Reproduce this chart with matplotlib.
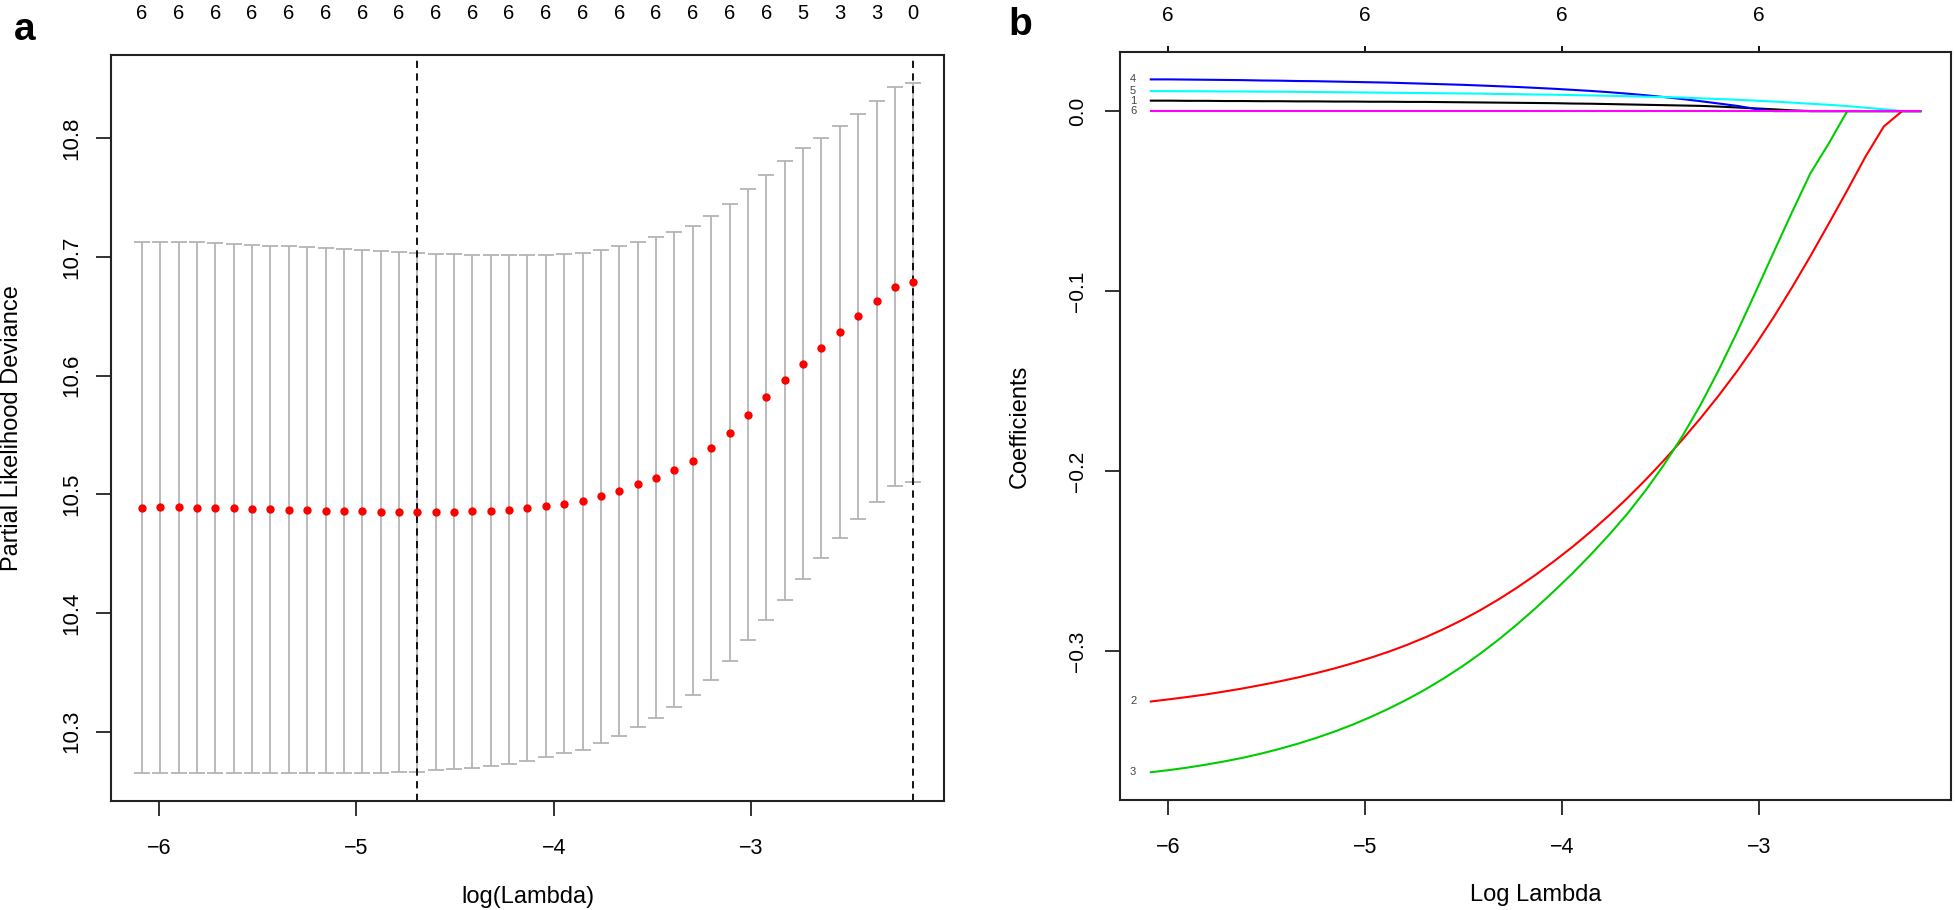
import numpy as np
import matplotlib
matplotlib.use("Agg")
import matplotlib.pyplot as plt

plt.rcParams['font.family'] = ['Liberation Sans', 'DejaVu Sans']

# ---- shared lambda sequence (log scale) ----
log_lambda = [-6.087, -5.994, -5.901, -5.808, -5.715, -5.622, -5.529, -5.436, -5.342,
              -5.249, -5.156, -5.063, -4.970, -4.877, -4.784, -4.691, -4.598, -4.505,
              -4.412, -4.319, -4.226, -4.133, -4.040, -3.946, -3.853, -3.760, -3.667,
              -3.574, -3.481, -3.388, -3.295, -3.202, -3.109, -3.016, -2.923, -2.830,
              -2.737, -2.644, -2.550, -2.457, -2.364, -2.271, -2.178]

# ---- panel a: cross-validated partial likelihood deviance ----
cv_mean = [10.4888, 10.4891, 10.4891, 10.4888, 10.4885, 10.4882, 10.4877, 10.4874, 10.4871,
           10.4868, 10.4863, 10.4860, 10.4857, 10.4854, 10.4854, 10.4849, 10.4852, 10.4854,
           10.4857, 10.4863, 10.4871, 10.4882, 10.4902, 10.4922, 10.4944, 10.4983, 10.5028,
           10.5084, 10.5140, 10.5207, 10.5285, 10.5389, 10.5521, 10.5672, 10.5817, 10.5963,
           10.6100, 10.6237, 10.6369, 10.6500, 10.6626, 10.6752, 10.6788]
cv_sd = [0.2239, 0.2236, 0.2236, 0.2236, 0.2231, 0.2228, 0.2225, 0.2222, 0.2220,
         0.2217, 0.2214, 0.2208, 0.2206, 0.2198, 0.2192, 0.2189, 0.2177, 0.2170,
         0.2164, 0.2152, 0.2144, 0.2133, 0.2116, 0.2104, 0.2094, 0.2077, 0.2063,
         0.2043, 0.2026, 0.2001, 0.1979, 0.1954, 0.1925, 0.1900, 0.1878, 0.1849,
         0.1816, 0.1769, 0.1735, 0.1705, 0.1694, 0.1681, 0.1683]
# number of non-zero coefficients, shown at every other lambda
nzero_top = [6, 6, 6, 6, 6, 6, 6, 6, 6, 6, 6, 6, 6, 6, 6, 6, 6, 6, 5, 3, 3, 0]

# ---- panel b: coefficient paths along the same lambdas ----
coef_1 = [0.0058, 0.0058, 0.0057, 0.0057, 0.0056, 0.0056, 0.0055, 0.0055, 0.0054,
          0.0054, 0.0053, 0.0053, 0.0052, 0.0052, 0.0051, 0.0051, 0.0050, 0.0049,
          0.0048, 0.0047, 0.0046, 0.0045, 0.0044, 0.0042, 0.0041, 0.0039, 0.0037,
          0.0035, 0.0033, 0.0031, 0.0029, 0.0025, 0.0020, 0.0015, 0.0010, 0.0004,
          0.0, 0.0, 0.0, 0.0, 0.0, 0.0, 0.0]
coef_2 = [-0.3278, -0.3266, -0.3253, -0.3239, -0.3223, -0.3206, -0.3187, -0.3167, -0.3145,
          -0.3121, -0.3095, -0.3066, -0.3035, -0.3001, -0.2963, -0.2921, -0.2875, -0.2825,
          -0.2770, -0.2710, -0.2645, -0.2575, -0.2500, -0.2420, -0.2335, -0.2245, -0.2149,
          -0.2047, -0.1939, -0.1825, -0.1705, -0.1578, -0.1443, -0.1298, -0.1143, -0.0978,
          -0.0805, -0.0625, -0.0440, -0.0252, -0.0085, 0.0, 0.0]
coef_3 = [-0.3671, -0.3659, -0.3645, -0.3629, -0.3611, -0.3591, -0.3568, -0.3542, -0.3513,
          -0.3481, -0.3446, -0.3407, -0.3364, -0.3317, -0.3266, -0.3210, -0.3149, -0.3083,
          -0.3011, -0.2933, -0.2849, -0.2760, -0.2666, -0.2567, -0.2463, -0.2353, -0.2236,
          -0.2106, -0.1964, -0.1806, -0.1631, -0.1436, -0.1226, -0.1006, -0.0782, -0.0560,
          -0.0345, -0.0180, 0.0, 0.0, 0.0, 0.0, 0.0]
coef_4 = [0.0176, 0.0176, 0.0175, 0.0174, 0.0173, 0.0172, 0.0170, 0.0169, 0.0167,
          0.0166, 0.0164, 0.0162, 0.0160, 0.0158, 0.0155, 0.0152, 0.0149, 0.0146,
          0.0142, 0.0138, 0.0134, 0.0129, 0.0124, 0.0118, 0.0112, 0.0105, 0.0097,
          0.0088, 0.0078, 0.0067, 0.0055, 0.0042, 0.0029, 0.0012, 0.0, 0.0,
          0.0, 0.0, 0.0, 0.0, 0.0, 0.0, 0.0]
coef_5 = [0.0111, 0.0111, 0.0110, 0.0110, 0.0109, 0.0109, 0.0108, 0.0108, 0.0107,
          0.0106, 0.0105, 0.0104, 0.0103, 0.0102, 0.0101, 0.0100, 0.0099, 0.0098,
          0.0097, 0.0095, 0.0094, 0.0092, 0.0091, 0.0089, 0.0087, 0.0085, 0.0083,
          0.0080, 0.0078, 0.0075, 0.0071, 0.0067, 0.0063, 0.0058, 0.0053, 0.0047,
          0.0041, 0.0035, 0.0028, 0.0019, 0.0010, 0.0, 0.0]
coef_6 = [0.0] * 43
path_names = ['1', '2', '3', '4', '5', '6']
path_colors = ['black', 'red', '#00CD00', 'blue', 'cyan', 'magenta']
b_ticks = [-6, -5, -4, -3]
nzero_b = [6, 6, 6, 6]


def r_lim(lo, hi):
    """R style axis range: data range widened by 4% on each side"""
    pad = (hi - lo) * 0.04
    return lo - pad, hi + pad


def style_axes(ax):
    for s in ax.spines.values():
        s.set_linewidth(1.5)
        s.set_color('#222222')
    ax.tick_params(direction='out', length=10.5, width=1.3, color='#222222')
    ax.tick_params(axis='x', labelsize=15.5, pad=16)


fig = plt.figure(figsize=(19.55, 9.10), dpi=100)

# ---------------- panel a ----------------
ax1 = fig.add_axes([0.0568, 0.1198, 0.4261, 0.8198])
x = np.array(log_lambda)
m = np.array(cv_mean)
sd = np.array(cv_sd)
ax1.errorbar(x, m, yerr=sd, fmt='none', ecolor='#b4b4b4', elinewidth=1.3,
             capsize=5.8, capthick=1.3, zorder=1)
ax1.plot(x, m, 'o', color='red', markersize=6, markeredgewidth=0, zorder=3)

# lambda.min and lambda.1se
i_min = int(np.argmin(m))
i_1se = int(np.where(m <= m[i_min] + sd[i_min])[0].max())
for i in (i_min, i_1se):
    ax1.axvline(x[i], color='black', lw=1.3, dashes=(4, 3), zorder=2)

ax1.set_xlim(*r_lim(x.min(), x.max()))
ax1.set_ylim(*r_lim((m - sd).min(), (m + sd).max()))
ax1.set_xticks([-6, -5, -4, -3])
ax1.set_yticks([10.3, 10.4, 10.5, 10.6, 10.7, 10.8])
ax1.set_yticklabels(['10.3', '10.4', '10.5', '10.6', '10.7', '10.8'])
style_axes(ax1)
ax1.tick_params(axis='y', labelsize=16, pad=10.5)
plt.setp(ax1.get_yticklabels(), rotation=90, va='center')

top1 = ax1.secondary_xaxis('top')
top1.set_xticks(x[::2])
top1.set_xticklabels([str(n) for n in nzero_top])
top1.tick_params(length=0, labelsize=14.5, pad=23)
top1.spines['top'].set_visible(False)

ax1.set_xlabel('log(Lambda)', fontsize=17, va='center')
ax1.xaxis.set_label_coords(0.5, -0.1287)
ax1.set_ylabel('Partial Likelihood Deviance', fontsize=17, va='center')
ax1.yaxis.set_label_coords(-0.1188, 0.5)

# ---------------- panel b ----------------
ax2 = fig.add_axes([0.5729, 0.1209, 0.4252, 0.8223])
paths = [coef_1, coef_2, coef_3, coef_4, coef_5, coef_6]
for name, c, col in zip(path_names, paths, path_colors):
    ax2.plot(x, c, color=col, lw=1.5)
    ax2.text(x[0] - 0.09, c[0], name, fontsize=8, color='#444444',
             ha='center', va='center')

allc = np.array(paths)
ax2.set_xlim(*r_lim(x.min(), x.max()))
ax2.set_ylim(*r_lim(allc.min(), allc.max()))
ax2.set_xticks(b_ticks)
ax2.set_yticks([-0.3, -0.2, -0.1, 0.0])
ax2.set_yticklabels(['\u22120.3', '\u22120.2', '\u22120.1', '0.0'])
style_axes(ax2)
ax2.tick_params(axis='y', labelsize=15, pad=13)
plt.setp(ax2.get_yticklabels(), rotation=90, va='center')

top2 = ax2.secondary_xaxis('top')
top2.set_xticks(b_ticks)
top2.set_xticklabels([str(n) for n in nzero_b])
top2.tick_params(length=4.5, width=1.3, labelsize=15, pad=15)
top2.spines['top'].set_visible(False)

ax2.set_xlabel('Log Lambda', fontsize=17, va='center')
ax2.xaxis.set_label_coords(0.5, -0.127)
ax2.set_ylabel('Coefficients', fontsize=17, va='center')
ax2.yaxis.set_label_coords(-0.1203, 0.5)

# panel letters
fig.text(25 / 1955, 1 - 30 / 910, 'a', fontsize=28, fontweight='bold', ha='center', va='center')
fig.text(1020 / 1955, 1 - 25 / 910, 'b', fontsize=28, fontweight='bold', ha='center', va='center')

fig.savefig('out.png', dpi=100)
